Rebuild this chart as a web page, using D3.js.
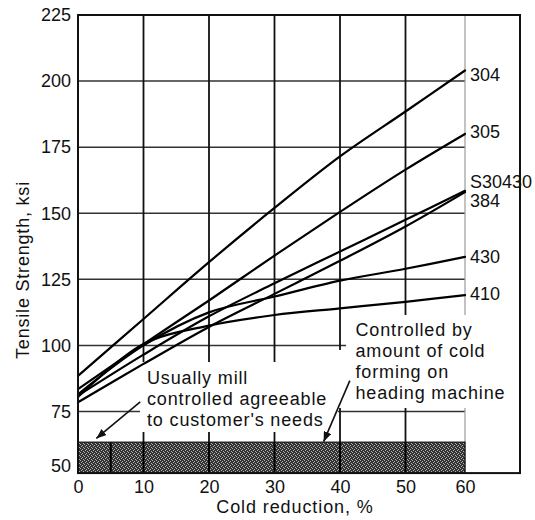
<!DOCTYPE html>
<html>
<head>
<meta charset="utf-8">
<script src="https://cdn.jsdelivr.net/npm/d3@7"></script>
<style>
  html, body { margin: 0; padding: 0; background: #fff; }
  svg { display: block; font-family: "Liberation Sans", Arial, Helvetica, sans-serif; }
</style>
</head>
<body>
<svg id="chart" width="535" height="520"></svg>
<script>
// Cold reduction (%) at which tensile strength is read for each grade
const reduction = [0, 10, 20, 30, 40, 50, 60];

// Tensile strength (ksi) per grade
const grade304    = [88.5, 110, 131.5, 152, 171.5, 188.5, 204];
const grade305    = [83.5, 100.5, 117, 134, 150.5, 166.5, 180];
const gradeS30430 = [81, 96.5, 111, 123.5, 135.5, 147.5, 158.5];
const grade384    = [78.5, 93, 107, 119.5, 132, 145, 158];
const grade430    = [81.5, 100, 112.5, 118.5, 124.5, 129, 133.5];
const grade410    = [80.5, 100.5, 107.5, 111.5, 114, 116.5, 119];

const gradeNames  = ["304", "305", "S30430", "384", "430", "410"];

// Axis ticks
const xTicks = [0, 10, 20, 30, 40, 50, 60];
const yTicks = [50, 75, 100, 125, 150, 175, 200, 225];

// Shaded band of mill-supplied strength and its divisions (% reduction)
const axisFloor = 51.7;
const bandTop = 63.4;
const bandDividers = [5, 10, 20, 30, 40, 50];

const xTitle = "Cold reduction, %";
const yTitle = "Tensile Strength, ksi";
const noteMill = ["Usually mill", "controlled agreeable", "to customer's needs"];
const noteHeading = ["Controlled by", "amount of cold", "forming on", "heading machine"];

const series = [grade304, grade305, gradeS30430, grade384, grade430, grade410]
  .map((vals, i) => ({ name: gradeNames[i], points: reduction.map((r, j) => [r, vals[j]]) }));

// ---- layout ----
const svg = d3.select("#chart");
const frameRight = 520;
const x = d3.scaleLinear().domain([0, 50, 60]).range([78, 405.5, 465]);
const y = d3.scaleLinear().domain([75, 225]).range([411.5, 15]);
const xMax = 60, yMax = 225;

const defs = svg.append("defs");
const pat = defs.append("pattern").attr("id", "stipple")
  .attr("width", 4).attr("height", 4).attr("patternUnits", "userSpaceOnUse");
pat.append("rect").attr("width", 4).attr("height", 4).attr("fill", "#333");
[[0, 0], [2, 1], [1, 2], [3, 3]].forEach(([px, py]) =>
  pat.append("rect").attr("x", px).attr("y", py).attr("width", 1).attr("height", 1).attr("fill", "#b0b0b0"));

defs.append("marker").attr("id", "arrow")
  .attr("markerUnits", "userSpaceOnUse")
  .attr("markerWidth", 11).attr("markerHeight", 8)
  .attr("refX", 10).attr("refY", 4).attr("orient", "auto")
  .append("path").attr("d", "M0,0 L10,4 L0,8 Z").attr("fill", "#111");

// ---- grid ----
const grid = svg.append("g");
grid.selectAll("line.h").data(yTicks.filter(v => v > 50 && v < yMax)).join("line")
  .attr("x1", x(0)).attr("x2", x(xMax))
  .attr("y1", d => y(d)).attr("y2", d => y(d))
  .attr("stroke", "#333").attr("stroke-width", 1.5);
grid.selectAll("line.v").data(xTicks.filter(v => v > 0 && v < xMax)).join("line")
  .attr("x1", d => x(d)).attr("x2", d => x(d))
  .attr("y1", y(yMax)).attr("y2", y(axisFloor))
  .attr("stroke", "#111").attr("stroke-width", 1.8);
grid.append("line")
  .attr("x1", x(xMax)).attr("x2", x(xMax))
  .attr("y1", y(yMax)).attr("y2", y(axisFloor))
  .attr("stroke", "#9a9a9a").attr("stroke-width", 1.2);

// white space cleared around the two notes
svg.append("rect").attr("x", 140).attr("y", 362).attr("width", 198).attr("height", 70).attr("fill", "#fff");
svg.append("rect").attr("x", 336).attr("y", 350).attr("width", 10).attr("height", 58).attr("fill", "#fff");
svg.append("rect").attr("x", 346).attr("y", 315).attr("width", 166).attr("height", 93).attr("fill", "#fff");

// ---- shaded band ----
svg.append("rect")
  .attr("x", x(0)).attr("y", y(bandTop))
  .attr("width", x(xMax) - x(0)).attr("height", y(axisFloor) - y(bandTop))
  .attr("fill", "url(#stipple)").attr("stroke", "#111").attr("stroke-width", 1.2);
svg.append("g").selectAll("line").data(bandDividers).join("line")
  .attr("x1", d => x(d)).attr("x2", d => x(d))
  .attr("y1", y(bandTop)).attr("y2", y(axisFloor))
  .attr("stroke", "#000").attr("stroke-width", 2);

// ---- curves ----
const line = d3.line().x(d => x(d[0])).y(d => y(d[1])).curve(d3.curveCatmullRom.alpha(0.5));
svg.append("g").selectAll("path").data(series).join("path")
  .attr("d", d => line(d.points))
  .attr("fill", "none").attr("stroke", "#000").attr("stroke-width", 2.2)
  .attr("stroke-linecap", "round");

const labelShift = { "304": 4.5, "305": -1.5, "S30430": -8.5, "384": 8.5, "430": 0.5, "410": -1.5 };
svg.append("g").selectAll("text").data(series).join("text")
  .attr("x", x(xMax) + 5)
  .attr("y", d => y(d.points[d.points.length - 1][1]) + labelShift[d.name])
  .attr("dominant-baseline", "central")
  .attr("font-size", 18).attr("fill", "#111")
  .text(d => d.name);

// ---- frame ----
svg.append("rect")
  .attr("x", x(0)).attr("y", y(yMax))
  .attr("width", frameRight - x(0)).attr("height", y(axisFloor) - y(yMax))
  .attr("fill", "none").attr("stroke", "#111").attr("stroke-width", 2);

// ---- axes ----
const yAxis = svg.append("g").attr("transform", `translate(${x(0)},0)`)
  .call(d3.axisLeft(y).tickValues(yTicks).tickSize(0).tickPadding(7));
yAxis.select(".domain").remove();
yAxis.selectAll("text").attr("font-size", 18).attr("fill", "#111")
  .attr("font-family", "Liberation Sans, Arial, sans-serif");
yAxis.selectAll(".tick").filter(d => d === 50)
  .attr("transform", `translate(0,${y(axisFloor) - 6.5})`);

const xAxis = svg.append("g").attr("transform", `translate(0,${y(axisFloor)})`)
  .call(d3.axisBottom(x).tickValues(xTicks).tickFormat(d3.format("d")).tickSize(0).tickPadding(7));
xAxis.select(".domain").remove();
xAxis.selectAll("text").attr("font-size", 18).attr("fill", "#111")
  .attr("font-family", "Liberation Sans, Arial, sans-serif");

svg.append("text").attr("x", 295).attr("y", 513)
  .attr("text-anchor", "middle").attr("font-size", 18).attr("letter-spacing", 0.9).attr("fill", "#111")
  .text(xTitle);
svg.append("text").attr("transform", "translate(23,270) rotate(-90)")
  .attr("text-anchor", "middle").attr("dominant-baseline", "central")
  .attr("font-size", 18).attr("letter-spacing", 0.8).attr("fill", "#111")
  .text(yTitle);

// ---- notes with arrows ----
function note(lines, left, firstBaseline) {
  svg.append("g").selectAll("text").data(lines).join("text")
    .attr("x", left).attr("y", (d, i) => firstBaseline + i * 21)
    .attr("font-size", 18).attr("letter-spacing", 0.85).attr("fill", "#111")
    .text(d => d);
}
note(noteMill, 147, 383.5);
note(noteHeading, 355.5, 335.5);

const arrows = [
  { from: [9.5, 78.6], to: [2.8, 64.8] },
  { from: [41.5, 86.7], to: [37.5, 63.6] }
];
svg.append("g").selectAll("line").data(arrows).join("line")
  .attr("x1", d => x(d.from[0])).attr("y1", d => y(d.from[1]))
  .attr("x2", d => x(d.to[0])).attr("y2", d => y(d.to[1]))
  .attr("stroke", "#111").attr("stroke-width", 1.6)
  .attr("marker-end", "url(#arrow)");
</script>
</body>
</html>
